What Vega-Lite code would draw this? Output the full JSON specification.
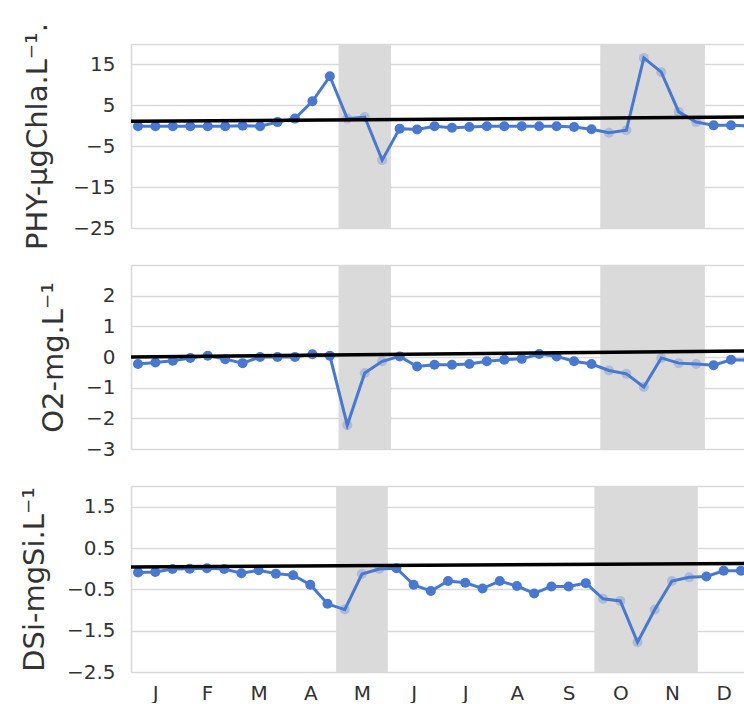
{
  "$schema": "https://vega.github.io/schema/vega-lite/v6.json",
  "background": "white",
  "padding": {"left": 20, "top": 22, "right": 0, "bottom": 0},
  "spacing": 37,
  "bounds": "flush",
  "config": {
    "view": {"stroke": null},
    "font": "DejaVu Sans",
    "axis": {
      "labelFont": "DejaVu Sans",
      "labelFontSize": 20,
      "labelColor": "#333333",
      "titleFont": "DejaVu Sans",
      "titleFontWeight": "normal",
      "titleColor": "#333333",
      "gridColor": "#d9d9d9",
      "gridWidth": 1.6,
      "domainColor": "#d9d9d9",
      "domainWidth": 1.6,
      "ticks": false,
      "tickSize": 0,
      "tickCount": 40,
      "labelOverlap": false,
      "labelFlush": false
    }
  },
  "datasets": {
    "series": [
      {"t": 0, "phy": -0.1, "o2": -0.23, "dsi": -0.09, "window": "no"},
      {"t": 1, "phy": -0.1, "o2": -0.18, "dsi": -0.08, "window": "no"},
      {"t": 2, "phy": -0.1, "o2": -0.12, "dsi": -0.01, "window": "no"},
      {"t": 3, "phy": -0.1, "o2": -0.03, "dsi": 0.0, "window": "no"},
      {"t": 4, "phy": -0.1, "o2": 0.04, "dsi": 0.01, "window": "no"},
      {"t": 5, "phy": -0.1, "o2": -0.07, "dsi": -0.01, "window": "no"},
      {"t": 6, "phy": 0.0, "o2": -0.2, "dsi": -0.11, "window": "no"},
      {"t": 7, "phy": -0.1, "o2": 0.0, "dsi": -0.04, "window": "no"},
      {"t": 8, "phy": 0.9, "o2": 0.0, "dsi": -0.12, "window": "no"},
      {"t": 9, "phy": 1.75, "o2": 0.0, "dsi": -0.16, "window": "no"},
      {"t": 10, "phy": 6.0, "o2": 0.09, "dsi": -0.39, "window": "no"},
      {"t": 11, "phy": 12.1, "o2": 0.04, "dsi": -0.85, "window": "no"},
      {"t": 12, "phy": 1.75, "o2": -2.22, "dsi": -0.99, "window": "yes"},
      {"t": 13, "phy": 2.15, "o2": -0.52, "dsi": -0.13, "window": "yes"},
      {"t": 14, "phy": -8.4, "o2": -0.14, "dsi": -0.01, "window": "yes"},
      {"t": 15, "phy": -0.7, "o2": 0.02, "dsi": 0.01, "window": "no"},
      {"t": 16, "phy": -0.9, "o2": -0.31, "dsi": -0.39, "window": "no"},
      {"t": 17, "phy": -0.1, "o2": -0.25, "dsi": -0.54, "window": "no"},
      {"t": 18, "phy": -0.5, "o2": -0.25, "dsi": -0.3, "window": "no"},
      {"t": 19, "phy": -0.3, "o2": -0.23, "dsi": -0.34, "window": "no"},
      {"t": 20, "phy": -0.1, "o2": -0.14, "dsi": -0.48, "window": "no"},
      {"t": 21, "phy": -0.1, "o2": -0.09, "dsi": -0.3, "window": "no"},
      {"t": 22, "phy": -0.1, "o2": -0.06, "dsi": -0.42, "window": "no"},
      {"t": 23, "phy": -0.1, "o2": 0.1, "dsi": -0.6, "window": "no"},
      {"t": 24, "phy": -0.1, "o2": 0.02, "dsi": -0.43, "window": "no"},
      {"t": 25, "phy": -0.3, "o2": -0.14, "dsi": -0.43, "window": "no"},
      {"t": 26, "phy": -0.85, "o2": -0.23, "dsi": -0.35, "window": "no"},
      {"t": 27, "phy": -1.7, "o2": -0.44, "dsi": -0.73, "window": "yes"},
      {"t": 28, "phy": -1.1, "o2": -0.55, "dsi": -0.78, "window": "yes"},
      {"t": 29, "phy": 16.6, "o2": -0.98, "dsi": -1.78, "window": "yes"},
      {"t": 30, "phy": 13.1, "o2": -0.03, "dsi": -0.99, "window": "yes"},
      {"t": 31, "phy": 3.4, "o2": -0.2, "dsi": -0.3, "window": "yes"},
      {"t": 32, "phy": 0.9, "o2": -0.23, "dsi": -0.21, "window": "yes"},
      {"t": 33, "phy": 0.1, "o2": -0.27, "dsi": -0.19, "window": "no"},
      {"t": 34, "phy": 0.1, "o2": -0.09, "dsi": -0.05, "window": "no"},
      {"t": 35, "phy": 0.0, "o2": -0.1, "dsi": -0.05, "window": "no"}
    ],
    "trend": [
      {"t": -0.5, "phy": 1.1, "o2": 0.0, "dsi": 0.042},
      {"t": 35.5, "phy": 2.17, "o2": 0.2, "dsi": 0.128}
    ],
    "windows": [
      {"start": 11.5, "end": 14.5},
      {"start": 26.5, "end": 32.5}
    ]
  },
  "vconcat": [
    {
      "width": 614,
      "height": 184,
      "layer": [
        {
          "data": {"name": "windows"},
          "mark": {"type": "rect", "color": "#dadada"},
          "encoding": {
            "x": {"field": "start", "type": "quantitative", "scale": {"domain": [-0.4, 34.8], "nice": false, "zero": false}, "axis": null},
            "x2": {"field": "end"}
          }
        },
        {
          "data": {"name": "series"},
          "mark": {"type": "circle", "size": 100, "color": "#4878d0", "clip": true},
          "encoding": {
            "x": {"field": "t", "type": "quantitative", "axis": null},
            "y": {"field": "phy", "type": "quantitative", "scale": {"domain": [-25, 20], "nice": false, "zero": false},
              "axis": {"title": "PHY-μgChla.L⁻¹.", "titleFontSize": 29, "titlePadding": 20, "labelPadding": 16, "labelOverlap": false, "tickCount": 40, "format": ".0f", "values": [-25, -15, -5, 5, 15, 20], "labelExpr": "datum.value == 20 ? '' : datum.label"}},
            "opacity": {"field": "window", "type": "nominal", "scale": {"domain": ["yes", "no"], "range": [0.3, 1]}, "legend": null}
          }
        },
        {
          "data": {"name": "series"},
          "mark": {"type": "line", "color": "#4878d0", "strokeWidth": 3, "clip": true},
          "encoding": {
            "x": {"field": "t", "type": "quantitative", "axis": null},
            "y": {"field": "phy", "type": "quantitative"}
          }
        },
        {
          "data": {"name": "trend"},
          "mark": {"type": "line", "color": "black", "strokeWidth": 3.5, "clip": true},
          "encoding": {
            "x": {"field": "t", "type": "quantitative", "axis": null},
            "y": {"field": "phy", "type": "quantitative"}
          }
        }
      ]
    },
    {
      "width": 614,
      "height": 184,
      "layer": [
        {
          "data": {"name": "windows"},
          "mark": {"type": "rect", "color": "#dadada"},
          "encoding": {
            "x": {"field": "start", "type": "quantitative", "scale": {"domain": [-0.4, 34.8], "nice": false, "zero": false}, "axis": null},
            "x2": {"field": "end"}
          }
        },
        {
          "data": {"name": "series"},
          "mark": {"type": "circle", "size": 100, "color": "#4878d0", "clip": true},
          "encoding": {
            "x": {"field": "t", "type": "quantitative", "axis": null},
            "y": {"field": "o2", "type": "quantitative", "scale": {"domain": [-3, 3], "nice": false, "zero": false},
              "axis": {"title": "O2-mg.L⁻¹", "titleFontSize": 29, "titlePadding": 17, "labelPadding": 16, "labelOverlap": false, "tickCount": 40, "format": ".0f", "values": [-3, -2, -1, 0, 1, 2, 3], "labelExpr": "datum.value == 3 ? '' : datum.label"}},
            "opacity": {"field": "window", "type": "nominal", "scale": {"domain": ["yes", "no"], "range": [0.3, 1]}, "legend": null}
          }
        },
        {
          "data": {"name": "series"},
          "mark": {"type": "line", "color": "#4878d0", "strokeWidth": 3, "clip": true},
          "encoding": {
            "x": {"field": "t", "type": "quantitative", "axis": null},
            "y": {"field": "o2", "type": "quantitative"}
          }
        },
        {
          "data": {"name": "trend"},
          "mark": {"type": "line", "color": "black", "strokeWidth": 3.5, "clip": true},
          "encoding": {
            "x": {"field": "t", "type": "quantitative", "axis": null},
            "y": {"field": "o2", "type": "quantitative"}
          }
        }
      ]
    },
    {
      "width": 614,
      "height": 186,
      "layer": [
        {
          "data": {"name": "windows"},
          "mark": {"type": "rect", "color": "#dadada"},
          "encoding": {
            "x": {"field": "start", "type": "quantitative", "scale": {"domain": [-0.41, 35.24], "nice": false, "zero": false},
              "axis": {"title": null, "values": [1, 4, 7, 10, 13, 16, 19, 22, 25, 28, 31, 34], "labelExpr": "['J','F','M','A','M','J','J','A','S','O','N','D'][floor(datum.value / 3)]", "grid": false, "domain": false, "labelPadding": 11, "labelFontSize": 20, "labelOverlap": false, "tickCount": 40}},
            "x2": {"field": "end"}
          }
        },
        {
          "data": {"name": "series"},
          "mark": {"type": "circle", "size": 100, "color": "#4878d0", "clip": true},
          "encoding": {
            "x": {"field": "t", "type": "quantitative"},
            "y": {"field": "dsi", "type": "quantitative", "scale": {"domain": [-2.5, 2], "nice": false, "zero": false},
              "axis": {"title": "DSi-mgSi.L⁻¹", "titleFontSize": 29, "titlePadding": 17, "labelPadding": 16, "labelOverlap": false, "tickCount": 40, "format": ".1f", "values": [-2.5, -1.5, -0.5, 0.5, 1.5, 2], "labelExpr": "datum.value == 2 ? '' : datum.label"}},
            "opacity": {"field": "window", "type": "nominal", "scale": {"domain": ["yes", "no"], "range": [0.3, 1]}, "legend": null}
          }
        },
        {
          "data": {"name": "series"},
          "mark": {"type": "line", "color": "#4878d0", "strokeWidth": 3, "clip": true},
          "encoding": {
            "x": {"field": "t", "type": "quantitative"},
            "y": {"field": "dsi", "type": "quantitative"}
          }
        },
        {
          "data": {"name": "trend"},
          "mark": {"type": "line", "color": "black", "strokeWidth": 3.5, "clip": true},
          "encoding": {
            "x": {"field": "t", "type": "quantitative"},
            "y": {"field": "dsi", "type": "quantitative"}
          }
        }
      ]
    }
  ]
}
